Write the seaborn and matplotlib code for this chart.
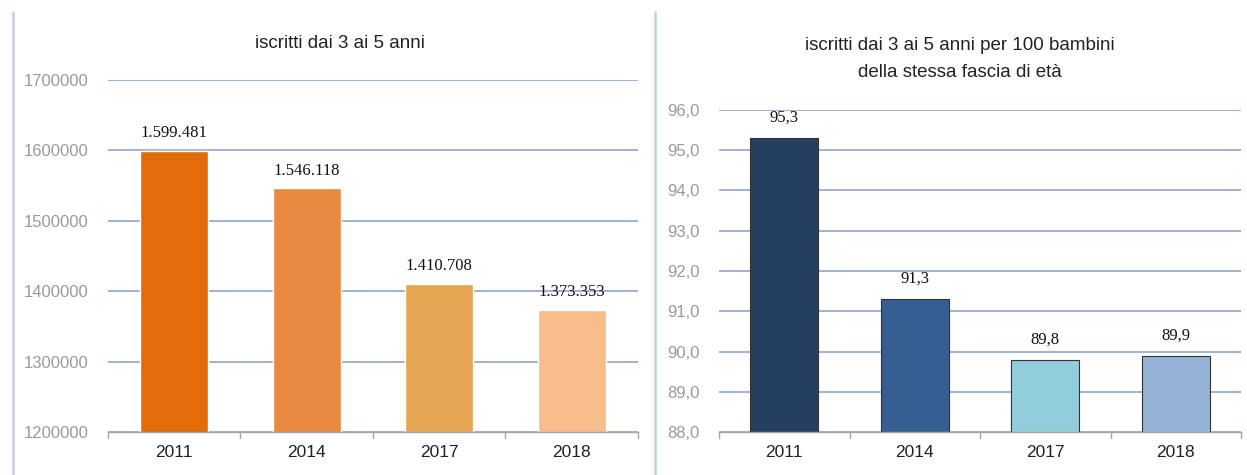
import numpy as np
import pandas as pd
import matplotlib
matplotlib.use("Agg")
import matplotlib.pyplot as plt
import seaborn as sns
from matplotlib.lines import Line2D
from matplotlib.ticker import FuncFormatter

anni = ["2011", "2014", "2017", "2018"]
iscritti = [1599481, 1546118, 1410708, 1373353]
tasso = [95.3, 91.3, 89.8, 89.9]

colori_sx = ["#e36c0a", "#e8893f", "#e6a552", "#f8bd8a"]
colori_dx = ["#243f60", "#365f91", "#92cddc", "#95b3d7"]

sns.set_theme(style="white")
plt.rcParams['font.family'] = ['Liberation Sans Narrow', 'Liberation Sans', 'DejaVu Sans']

df_sx = pd.DataFrame({"anno": anni, "valore": iscritti})
df_dx = pd.DataFrame({"anno": anni, "valore": tasso})

fig = plt.figure(figsize=(12.47, 4.75), dpi=100)
ax1 = fig.add_axes([0.0866, 0.0905, 0.425, 0.741])
ax2 = fig.add_axes([0.5766, 0.0905, 0.4186, 0.678])

grid_col = "#9fb3d1"

def style_ax(ax, ylim, step):
    ax.set_ylim(*ylim)
    ax.set_yticks(np.arange(ylim[0], ylim[1] + step / 2, step))
    ax.yaxis.grid(True, color=grid_col, linewidth=1.4)
    ax.set_axisbelow(True)
    for s in ["top", "right", "left"]:
        ax.spines[s].set_visible(False)
    ax.spines["bottom"].set_color("#a6a6a6")
    ax.spines["bottom"].set_linewidth(1)
    ax.tick_params(axis="y", length=0, labelsize=12, labelcolor="#9a9a9a", pad=14)
    ax.tick_params(axis="x", length=0, labelsize=12.5, labelcolor="#222222", pad=9)
    ax.set_xlabel("")
    ax.set_ylabel("")
    ax.set_xlim(-0.5, 3.5)
    # category separator ticks
    for x in [-0.5, 0.5, 1.5, 2.5, 3.5]:
        ax.plot([x, x], [0, -0.018], transform=ax.get_xaxis_transform(),
                color="#a6a6a6", linewidth=1, clip_on=False)

sns.barplot(data=df_sx, x="anno", y="valore", hue="anno", palette=colori_sx,
            width=0.51, legend=False, ax=ax1, saturation=1)
style_ax(ax1, (1200000, 1700000), 100000)
ax1.yaxis.set_major_formatter(FuncFormatter(lambda v, p: f"{int(v)}"))
for i, v in enumerate(iscritti):
    ax1.text(i, v + 14000, f"{v:,}".replace(",", "."), ha="center", va="bottom",
             fontsize=12, family="Liberation Serif", color="#111111")

sns.barplot(data=df_dx, x="anno", y="valore", hue="anno", palette=colori_dx,
            width=0.52, legend=False, ax=ax2, saturation=1,
            edgecolor="#333333", linewidth=0.8)
style_ax(ax2, (88, 96), 1)
ax2.yaxis.set_major_formatter(FuncFormatter(lambda v, p: f"{v:.1f}".replace(".", ",")))
for i, v in enumerate(tasso):
    ax2.text(i, v + 0.3, f"{v:.1f}".replace(".", ","), ha="center", va="bottom",
             fontsize=12, family="Liberation Serif", color="#111111")

fig.text(0.273, 0.908, "iscritti dai 3 ai 5 anni", ha="center", va="center",
         fontsize=13.5, color="#222222")
fig.text(0.77, 0.905, "iscritti dai 3 ai 5 anni per 100 bambini", ha="center",
         va="center", fontsize=13.5, color="#222222")
fig.text(0.77, 0.848, "della stessa fascia di età", ha="center",
         va="center", fontsize=13.5, color="#222222")

# panel separators
for xf in [13 / 1247, 655 / 1247]:
    fig.add_artist(Line2D([xf, xf], [0, 1 - 12 / 475], transform=fig.transFigure,
                          color="#c5d0e2", linewidth=1.8))

fig.savefig("out.png", dpi=100)
